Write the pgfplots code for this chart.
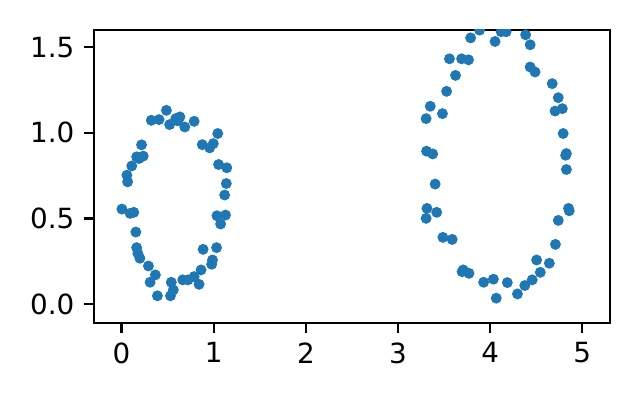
\documentclass[border=0pt]{standalone}
\usepackage{fontspec}
\setmainfont{DejaVu Sans}
\usepackage{pgfplots}
\pgfplotsset{compat=1.18}
\definecolor{mplblue}{HTML}{1F77B4}

\begin{document}
\begin{tikzpicture}[font=\fontsize{10pt}{12pt}\selectfont]
\useasboundingbox (-33.8pt,-27.7pt) rectangle (196.6pt,116.3pt);
\begin{axis}[
  at={(0,0)}, anchor=south west,
  scale only axis,
  width=185.8pt, height=105.5pt,
  xmin=-0.3, xmax=5.3,
  ymin=-0.11, ymax=1.6,
  clip marker paths=true,
  xtick={0,1,2,3,4,5},
  ytick={0,0.5,1.0,1.5},
  tick pos=left,
  tick align=outside,
  major tick length=3.5pt,
  axis line style={line width=0.8pt},
  every tick/.style={line width=0.8pt, black},
  /pgf/number format/assume math mode=true,
  yticklabel style={/pgf/number format/.cd, fixed, fixed zerofill, precision=1},
  xticklabel style={/pgf/number format/.cd, fixed, precision=0},
  tick label style={font=\fontsize{10pt}{12pt}\selectfont},
]
% left ring
\addplot[only marks, mark=*, mark size=1.75pt, color=mplblue] coordinates {
(0.004,0.555)(0.058,0.753)(0.066,0.714)(0.093,0.530)(0.133,0.536)
(0.111,0.807)(0.155,0.421)(0.164,0.860)(0.164,0.330)(0.177,0.297)
(0.199,0.268)(0.217,0.930)(0.235,0.864)(0.190,0.850)(0.292,0.223)
(0.310,0.128)(0.367,0.171)(0.323,1.073)(0.407,1.077)(0.389,0.049)
(0.487,1.131)(0.522,1.048)(0.531,0.049)(0.562,0.083)(0.540,0.128)
(0.588,1.083)(0.633,1.093)(0.686,1.034)(0.664,0.142)(0.721,0.142)
(0.788,1.067)(0.788,0.161)(0.841,0.116)(0.863,0.200)(0.885,0.320)
(0.876,0.931)(0.956,0.912)(0.996,0.937)(1.044,0.996)(0.978,0.233)
(0.987,0.258)(1.031,0.330)(1.035,0.516)(1.075,0.468)(1.128,0.520)
(1.119,0.637)(1.137,0.704)(1.142,0.796)(1.053,0.815)(0.610,1.070)
};
% right ring
\addplot[only marks, mark=*, mark size=1.75pt, color=mplblue] coordinates {
(3.305,1.083)(3.350,1.155)(3.482,1.112)(3.527,1.242)(3.624,1.335)
(3.558,1.432)(3.690,1.432)(3.765,1.426)(3.788,1.554)(3.885,1.599)
(4.053,1.533)(4.119,1.590)(4.173,1.590)(4.385,1.572)(4.434,1.514)
(4.434,1.384)(4.487,1.355)(4.673,1.287)(4.739,1.205)(4.704,1.127)
(4.783,1.141)(4.792,0.996)(4.819,0.869)(4.827,0.879)(4.827,0.786)
(4.850,0.559)(4.858,0.545)(4.739,0.489)(4.708,0.349)(4.642,0.239)
(4.504,0.258)(4.544,0.186)(4.456,0.142)(4.376,0.109)(4.296,0.060)
(4.186,0.126)(4.066,0.035)(4.035,0.146)(3.929,0.128)(3.770,0.180)
(3.708,0.200)(3.695,0.190)(3.588,0.378)(3.487,0.390)(3.420,0.536)
(3.314,0.559)(3.305,0.501)(3.403,0.701)(3.376,0.877)(3.310,0.893)
};
\end{axis}
\end{tikzpicture}
\end{document}
